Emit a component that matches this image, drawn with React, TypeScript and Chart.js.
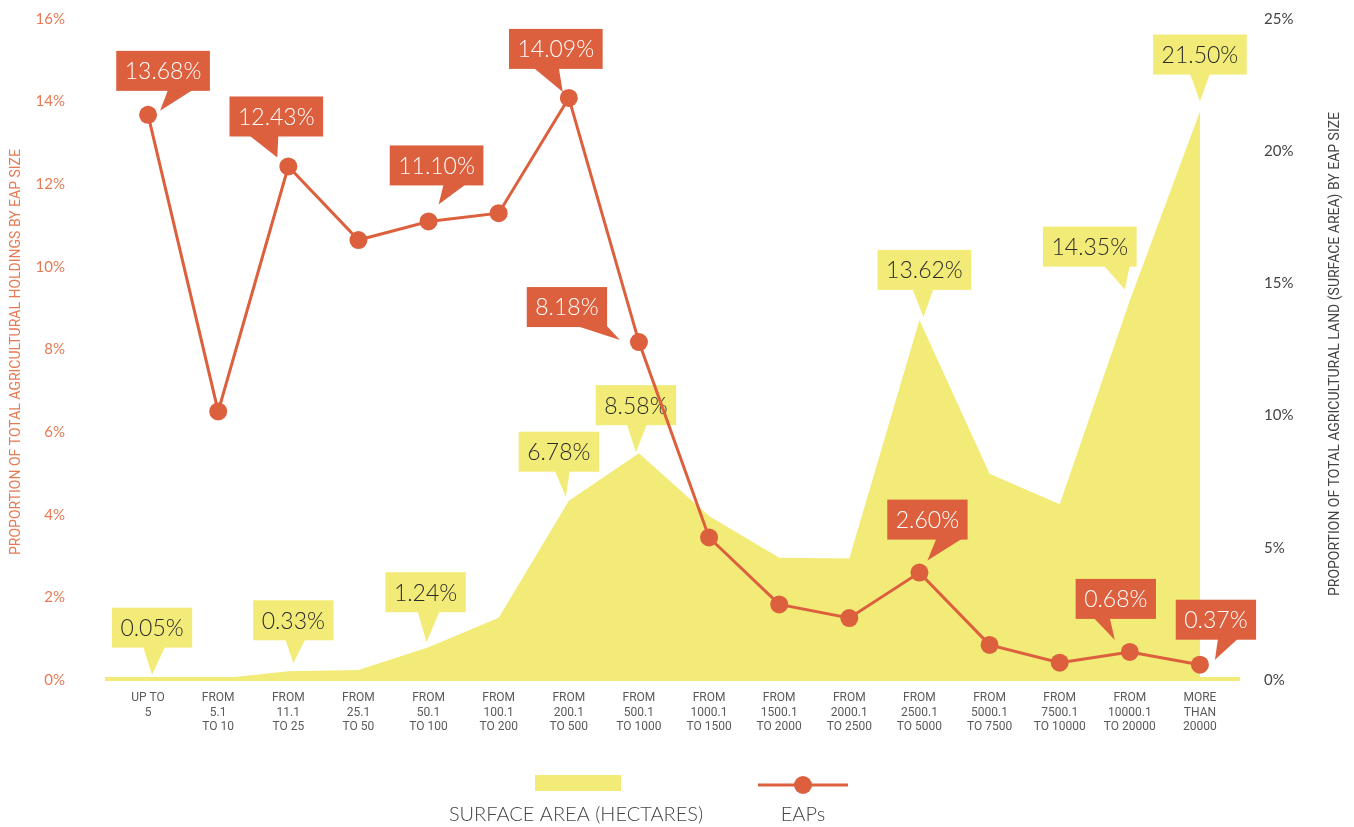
import React, { useEffect, useRef } from "react";
import { Chart, registerables } from "chart.js";

Chart.register(...registerables);

// ---------- DATA ----------
const categories: string[][] = [
  ["UP TO", "5"],
  ["FROM", "5.1", "TO 10"],
  ["FROM", "11.1", "TO 25"],
  ["FROM", "25.1", "TO 50"],
  ["FROM", "50.1", "TO 100"],
  ["FROM", "100.1", "TO 200"],
  ["FROM", "200.1", "TO 500"],
  ["FROM", "500.1", "TO 1000"],
  ["FROM", "1000.1", "TO 1500"],
  ["FROM", "1500.1", "TO 2000"],
  ["FROM", "2000.1", "TO 2500"],
  ["FROM", "2500.1", "TO 5000"],
  ["FROM", "5000.1", "TO 7500"],
  ["FROM", "7500.1", "TO 10000"],
  ["FROM", "10000.1", "TO 20000"],
  ["MORE", "THAN", "20000"],
];

// EAPs: share of total agricultural holdings (left axis, %)
const eapShare = [13.68, 6.5, 12.43, 10.65, 11.1, 11.3, 14.09, 8.18, 3.45, 1.83, 1.5, 2.6, 0.85, 0.42, 0.68, 0.37];

// Surface area: share of total agricultural land (right axis, %)
const surfaceShare = [0.05, 0.05, 0.33, 0.38, 1.24, 2.35, 6.78, 8.58, 6.2, 4.62, 4.6, 13.62, 7.8, 6.65, 14.35, 21.5];

const leftAxisMax = 16;
const leftAxisStep = 2;
const rightAxisMax = 25;
const rightAxisStep = 5;

const leftAxisTitle = "PROPORTION OF TOTAL AGRICULTURAL HOLDINGS BY EAP SIZE";
const rightAxisTitle = "PROPORTION OF TOTAL AGRICULTURAL LAND (SURFACE AREA) BY EAP SIZE";
const surfaceLegend = "SURFACE AREA (HECTARES)";
const eapLegend = "EAPs";

// ---------- STYLE ----------
const RED = "#dc603e";
const YELLOW = "#f2eb78";
const ORANGE_TEXT = "#e57a55";
const DARK_TEXT = "#444444";
const HAND_FONT = "Lato";

// callout placement (pixel offsets relative to the data point)
type Callout = { ds: "eap" | "surface"; i: number; bx: number; by: number; b1: number; b2: number; tx: number; ty: number };
const CALLOUTS: Callout[] = [
  // surface area (yellow)
  { ds: "surface", i: 0, bx: 4, by: -51, b1: -9, b2: 13, tx: 4, ty: -4 },
  { ds: "surface", i: 2, bx: 5, by: -51, b1: -8, b2: 12, tx: 5, ty: -8 },
  { ds: "surface", i: 4, bx: -3, by: -55, b1: -8, b2: 14, tx: -2, ty: -5 },
  { ds: "surface", i: 6, bx: -10, by: -49, b1: -4, b2: 11, tx: -3, ty: -4 },
  { ds: "surface", i: 7, bx: -3, by: -48, b1: -9, b2: 11, tx: -3, ty: -1 },
  { ds: "surface", i: 11, bx: 5, by: -50, b1: -12, b2: 9, tx: 4, ty: -3 },
  { ds: "surface", i: 14, bx: -40, by: -54, b1: 14, b2: 40, tx: -5, ty: -11 },
  { ds: "surface", i: 15, bx: 0, by: -57, b1: -10, b2: 10, tx: 0, ty: -10 },
  // EAPs (red)
  { ds: "eap", i: 0, bx: 15, by: -44, b1: 5, b2: 30, tx: 12, ty: -4 },
  { ds: "eap", i: 2, bx: -12, by: -50, b1: -27, b2: 2, tx: -11, ty: -9 },
  { ds: "eap", i: 4, bx: 8, by: -56, b1: 7, b2: 29, tx: 10, ty: -17 },
  { ds: "eap", i: 6, bx: -13, by: -49, b1: -22, b2: 3, tx: -6, ty: -6 },
  { ds: "eap", i: 7, bx: -72, by: -35, b1: 10, b2: 40, tx: -19, ty: -2 },
  { ds: "eap", i: 11, bx: 8, by: -53, b1: 9, b2: 35, tx: 8, ty: -12 },
  { ds: "eap", i: 14, bx: -14, by: -53, b1: -22, b2: -6, tx: -15, ty: -12 },
  { ds: "eap", i: 15, bx: 16, by: -45, b1: 2, b2: 22, tx: 15, ty: -5 },
];

const drawCallouts = (chart: any, which: "eap" | "surface") => {
  const ctx = chart.ctx as CanvasRenderingContext2D;
  const xs = chart.scales.x;
  const ys = which === "eap" ? chart.scales.y : chart.scales.y2;
  const vals = which === "eap" ? eapShare : surfaceShare;
  ctx.save();
  ctx.font = `300 23px ${HAND_FONT}`;
  ctx.textAlign = "center";
  ctx.textBaseline = "middle";
  for (const c of CALLOUTS) {
    if (c.ds !== which) continue;
    const v = vals[c.i];
    const px = xs.getPixelForValue(c.i);
    const py = ys.getPixelForValue(v);
    const text = v.toFixed(2) + "%";
    const w = ctx.measureText(text).width + 17;
    const h = 40;
    const cx = px + c.bx;
    const cy = py + c.by;
    const bottom = cy + h / 2;
    ctx.fillStyle = which === "eap" ? RED : YELLOW;
    ctx.fillRect(cx - w / 2, cy - h / 2, w, h);
    ctx.beginPath();
    ctx.moveTo(cx + c.b1, bottom - 1);
    ctx.lineTo(cx + c.b2, bottom - 1);
    ctx.lineTo(px + c.tx, py + c.ty);
    ctx.closePath();
    ctx.fill();
    ctx.fillStyle = which === "eap" ? "#ffffff" : "#2b2b2b";
    ctx.fillText(text, cx, cy + 1);
  }
  ctx.restore();
};

const decorPlugin = {
  id: "decor",
  beforeDatasetsDraw(chart: any) {
    const ctx = chart.ctx as CanvasRenderingContext2D;
    const a = chart.chartArea;
    ctx.save();
    ctx.fillStyle = YELLOW;
    ctx.fillRect(a.left - 8, a.bottom - 3, a.right - a.left + 13, 4);
    ctx.restore();
  },
  afterDatasetDraw(chart: any, args: any) {
    const ds = chart.data.datasets[args.index];
    drawCallouts(chart, ds.key);
  },
  afterDraw(chart: any) {
    const ctx = chart.ctx as CanvasRenderingContext2D;
    ctx.save();
    // axis titles
    ctx.font = `14px Roboto`;
    ctx.textAlign = "center";
    ctx.textBaseline = "middle";
    ctx.fillStyle = ORANGE_TEXT;
    ctx.save();
    ctx.translate(16, 352);
    ctx.rotate(-Math.PI / 2);
    ctx.fillText(leftAxisTitle, 0, 0, 428);
    ctx.restore();
    ctx.fillStyle = DARK_TEXT;
    ctx.save();
    ctx.translate(1335, 354);
    ctx.rotate(-Math.PI / 2);
    ctx.fillText(rightAxisTitle, 0, 0, 500);
    ctx.restore();

    // legend
    ctx.fillStyle = YELLOW;
    ctx.fillRect(535, 775, 86, 16);
    ctx.strokeStyle = RED;
    ctx.lineWidth = 3;
    ctx.beginPath();
    ctx.moveTo(758, 785);
    ctx.lineTo(848, 785);
    ctx.stroke();
    ctx.fillStyle = RED;
    ctx.beginPath();
    ctx.arc(803, 785, 9, 0, Math.PI * 2);
    ctx.fill();
    ctx.font = `300 20px ${HAND_FONT}`;
    ctx.fillStyle = DARK_TEXT;
    ctx.fillText(surfaceLegend, 576, 815);
    ctx.fillText(eapLegend, 803, 815);
    ctx.restore();
  },
};

export default function App() {
  const ref = useRef<HTMLCanvasElement | null>(null);

  useEffect(() => {
    if (!ref.current) return;
    const chart = new Chart(ref.current, {
      type: "line",
      data: {
        labels: categories as any,
        datasets: [
          {
            key: "eap",
            label: eapLegend,
            data: eapShare,
            yAxisID: "y",
            borderColor: RED,
            backgroundColor: RED,
            borderWidth: 3,
            pointRadius: 9,
            pointBackgroundColor: RED,
            pointBorderWidth: 0,
            tension: 0,
            fill: false,
            order: 0,
          } as any,
          {
            key: "surface",
            label: surfaceLegend,
            data: surfaceShare,
            yAxisID: "y2",
            borderWidth: 0,
            borderColor: YELLOW,
            backgroundColor: YELLOW,
            pointRadius: 0,
            tension: 0,
            fill: "origin",
            order: 1,
          } as any,
        ],
      },
      options: {
        responsive: false,
        animation: false,
        devicePixelRatio: 1,
        layout: { padding: { top: 19, left: 0, right: 0, bottom: 0 } },
        plugins: { legend: { display: false }, tooltip: { enabled: false } },
        scales: {
          x: {
            type: "category",
            offset: true,
            grid: { display: false },
            border: { display: false },
            ticks: {
              color: "#5a5a5a",
              font: { family: "Roboto", size: 12 },
              padding: 3,
              maxRotation: 0,
              autoSkip: false,
            },
            afterFit: (s: any) => {
              s.height = 147;
              s.paddingLeft = 0;
              s.paddingRight = 0;
            },
          },
          y: {
            position: "left",
            min: 0,
            max: leftAxisMax,
            grid: { display: false },
            border: { display: false },
            ticks: {
              stepSize: leftAxisStep,
              color: ORANGE_TEXT,
              font: { family: HAND_FONT, size: 15 },
              padding: 40,
              callback: (v: any) => v + "%",
            },
            afterFit: (s: any) => {
              s.width = 113;
              s.paddingTop = 0;
              s.paddingBottom = 0;
            },
          },
          y2: {
            position: "right",
            min: 0,
            max: rightAxisMax,
            grid: { display: false },
            border: { display: false },
            ticks: {
              stepSize: rightAxisStep,
              color: DARK_TEXT,
              font: { family: HAND_FONT, size: 15 },
              padding: 21,
              callback: (v: any) => v + "%",
            },
            afterFit: (s: any) => {
              s.width = 119;
              s.paddingTop = 0;
              s.paddingBottom = 0;
            },
          },
        },
      } as any,
      plugins: [decorPlugin],
    });
    return () => chart.destroy();
  }, []);

  return (
    <div style={{ position: "fixed", left: 0, top: 0, width: 1354, height: 827, background: "#fff" }}>
      <canvas ref={ref} width={1354} height={827} style={{ display: "block" }} />
    </div>
  );
}
